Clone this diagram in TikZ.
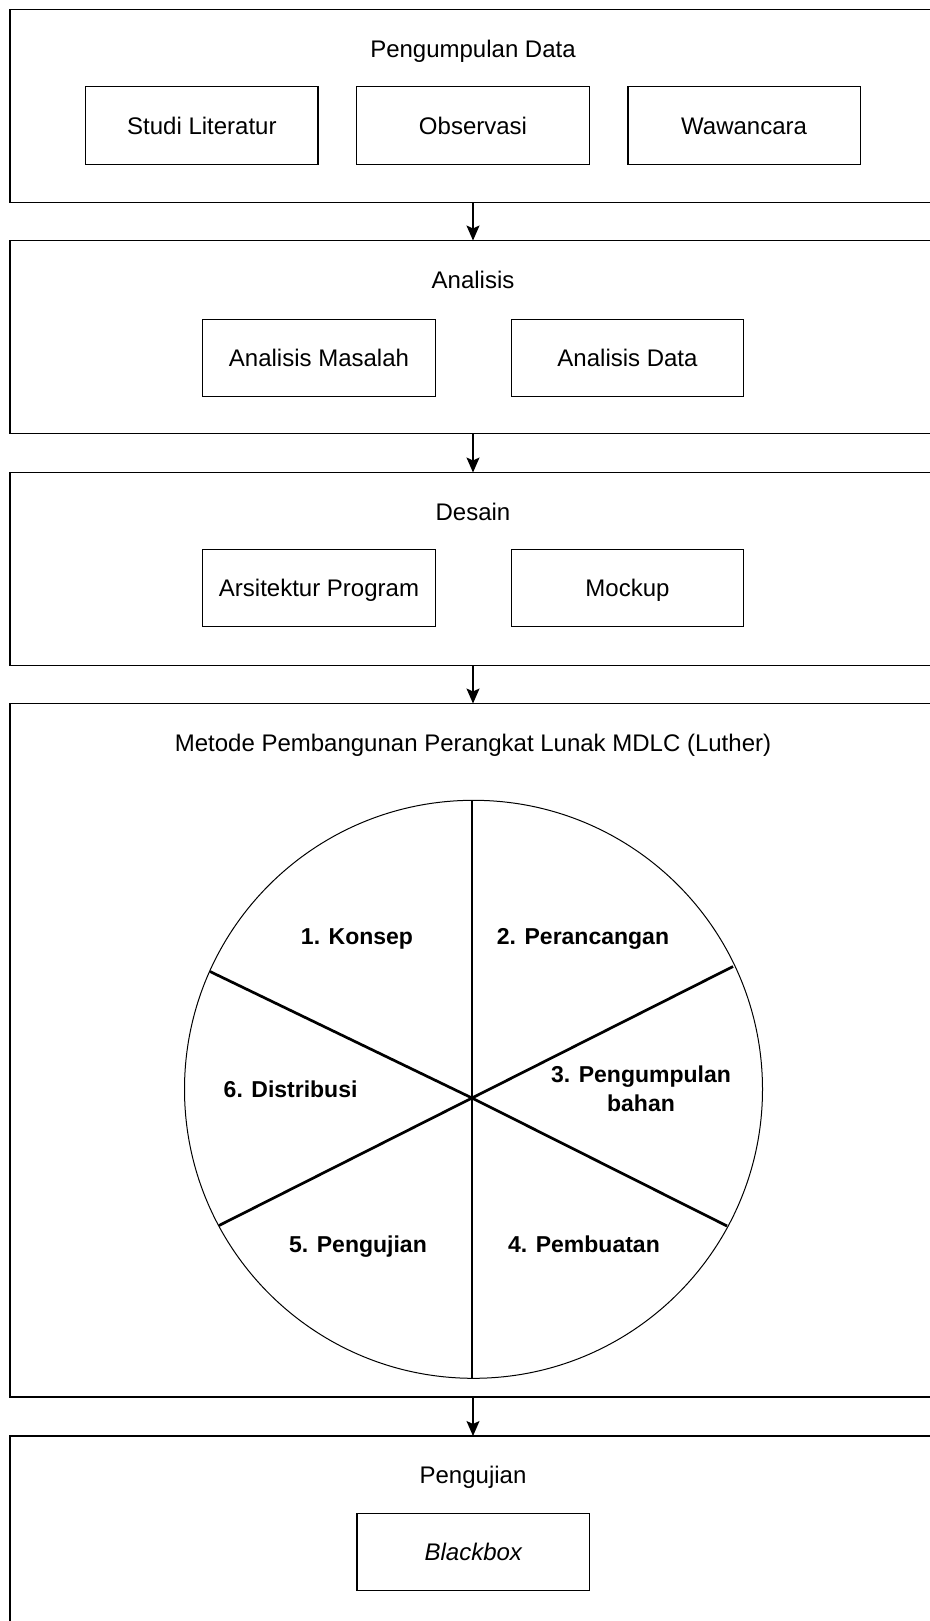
\documentclass[tikz,border=0pt]{standalone}
\usepackage{fontspec}
\setmainfont{Liberation Sans}
\usetikzlibrary{arrows.meta, positioning}

\begin{document}
\begin{tikzpicture}[x=0.5pt, y=-0.5pt, every node/.style = {font=\fontsize{12}{14.4}\selectfont}]

\tikzstyle{stage}=[draw, line width=0.7pt, minimum width=463pt, inner sep=0pt, outer sep=0pt]
\tikzstyle{task}=[draw, line width=0.7pt, minimum width=116.25pt, minimum height=38.75pt, text height=8.6pt, text depth=0pt, inner sep=0pt]
\tikzstyle{heading}=[anchor=base]
\tikzstyle{phase}=[anchor=base, font=\bfseries\fontsize{11.5}{14.3}\selectfont]
\tikzstyle{flow}=[-{Stealth[length=7.5pt, width=6.5pt, inset=1.5pt]}, line width=0.7pt]
\tikzstyle{spoke}=[line width=1.35pt]

\useasboundingbox (0,0) rectangle (930,1621);
\clip (0,0) rectangle (930,1621);

\node[stage, minimum height=96.5pt] (gather) at (473,106) {};
\node[stage, minimum height=96.5pt] (analysis) at (473,337) {};
\node[stage, minimum height=96.5pt] (design) at (473,569) {};
\node[stage, minimum height=346.75pt] (mdlc) at (473,1050.25) {};
\node[stage, minimum height=96.5pt] (testing) at (473,1532.5) {};

\node[heading] (gatherTitle) at (473,57.5) {Pengumpulan Data};
\node[task] (observation) at (473,125.5) {Observasi};
\node[task, left=18.6pt of observation] (literature) {Studi Literatur};
\node[task, right=18.6pt of observation] (interview) {Wawancara};

\node[heading] (analysisTitle) at (473,288.5) {Analisis};
\node[task] (problem) at (319,358) {Analisis Masalah};
\node[task] (dataAnalysis) at (627.5,358) {Analisis Data};

\node[heading] (designTitle) at (473,520) {Desain};
\node[task] (architecture) at (319,588) {Arsitektur Program};
\node[task] (mockup) at (627.5,588) {Mockup};

\node[heading] (mdlcTitle) at (473,751.5) {Metode Pembangunan Perangkat Lunak MDLC (Luther)};
\draw[line width=0.5pt] (473.5,1089.3) circle[radius=144.5pt];
\coordinate (hub) at (472,1098);
\foreach \ex/\ey in {472/800.5, 733/966.5, 727/1226, 472/1378, 219/1225.5, 210/971.5}
	\draw[spoke] (hub) -- (\ex,\ey);
\node[phase] (concept) at (357,944) {1. Konsep};
\node[phase] (plan) at (583,944) {2. Perancangan};
\node[phase, anchor=center, align=center] (material) at (641,1089) {3. Pengumpulan\\bahan};
\node[phase] (build) at (584,1252) {4. Pembuatan};
\node[phase] (trial) at (358,1252) {5. Pengujian};
\node[phase] (distribution) at (290.6,1097) {6. Distribusi};

\node[heading] (testingTitle) at (473,1483.5) {Pengujian};
\node[task] (blackbox) at (473.3,1552) {\itshape Blackbox};

\draw[flow] (gather) -- (analysis);
\draw[flow] (analysis) -- (design);
\draw[flow] (design) -- (mdlc);
\draw[flow] (mdlc) -- (testing);
\end{tikzpicture}
\end{document}
